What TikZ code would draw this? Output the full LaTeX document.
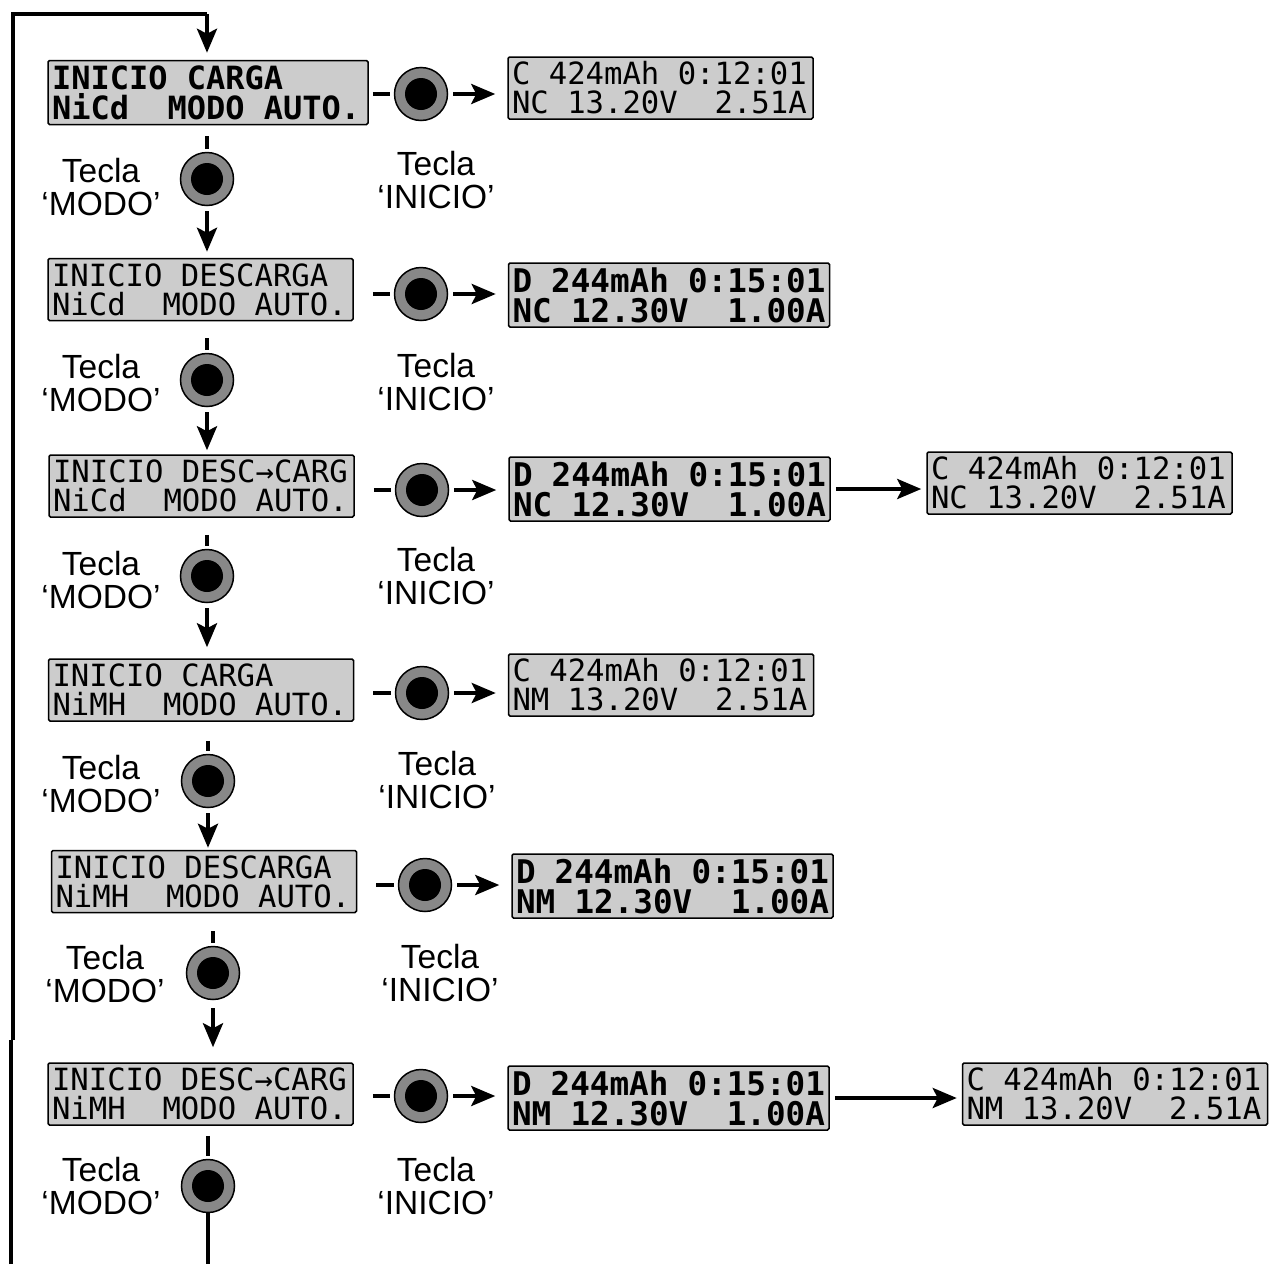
\documentclass[tikz,border=0pt]{standalone}
\usepackage{xcolor}
\usepackage{fontspec}
\setmainfont{Liberation Sans}
\newfontfamily\lcdfont{DejaVu Sans Mono}
\usetikzlibrary{arrows.meta,positioning,calc}
\definecolor{lcdgray}{HTML}{CCCCCC}
\definecolor{ringgray}{HTML}{888888}
\tikzset{
  lcd/.style={draw, fill=lcdgray, rounded corners=1.5pt, line width=1.5pt, inner sep=4pt, align=flush left},
  lcdthin/.style={lcd, minimum width=305pt, minimum height=62pt, text width=297pt, font=\lcdfont\fontsize{30.6}{29}\selectfont},
  lcdbold/.style={lcd, minimum width=321pt, minimum height=64pt, text width=313pt, font=\lcdfont\bfseries\fontsize{32.6}{30}\selectfont},
  keybtn/.style={circle, draw, fill=ringgray, line width=1.5pt, minimum size=53pt, inner sep=0pt,
    path picture={\fill[black] (path picture bounding box.center) circle (16pt);}},
  tecla/.style={align=center, inner sep=0pt, font=\fontsize{33.5}{33.5}\selectfont},
  lnk/.style={line width=4pt},
  arr/.style={lnk, -{Stealth[length=24pt,width=20pt,inset=5pt]}}
}
\begin{document}
\begin{tikzpicture}[x=1pt,y=-1pt]
\useasboundingbox (0,0) rectangle (1269,1264);
\node[lcdbold, minimum width=320pt, text width=312pt, font=\lcdfont\bfseries\fontsize{32}{30}\selectfont] (b1) at (208,92.5) {INICIO CARGA\\NiCd~~MODO AUTO.};
\node[lcdthin] (b2) at (200.5,289.5) {INICIO DESCARGA\\NiCd~~MODO AUTO.};
\node[lcdthin] (b3) at (201.5,486) {INICIO DESC→CARG\\NiCd~~MODO AUTO.};
\node[lcdthin] (b4) at (201,690) {INICIO CARGA\\NiMH~~MODO AUTO.};
\node[lcdthin] (b5) at (204,881.5) {INICIO DESCARGA\\NiMH~~MODO AUTO.};
\node[lcdthin] (b6) at (200.5,1094) {INICIO DESC→CARG\\NiMH~~MODO AUTO.};

\node[lcdthin] (r1) at (660.5,88) {C 424mAh 0:12:01\\NC 13.20V~~2.51A};
\node[lcdbold] (r2) at (669,295) {D 244mAh 0:15:01\\NC 12.30V~~1.00A};
\node[lcdbold] (r3) at (669.5,489) {D 244mAh 0:15:01\\NC 12.30V~~1.00A};
\node[lcdthin] (s3) at (1079.5,483) {C 424mAh 0:12:01\\NC 13.20V~~2.51A};
\node[lcdthin] (r4) at (661,685) {C 424mAh 0:12:01\\NM 13.20V~~2.51A};
\node[lcdbold] (r5) at (672.5,886) {D 244mAh 0:15:01\\NM 12.30V~~1.00A};
\node[lcdbold] (r6) at (668.5,1098) {D 244mAh 0:15:01\\NM 12.30V~~1.00A};
\node[lcdthin] (s6) at (1115,1094) {C 424mAh 0:12:01\\NM 13.20V~~2.51A};

\node[keybtn] (k1) at (207,179) {};
\node[keybtn] (k2) at (207,380) {};
\node[keybtn] (k3) at (207,576) {};
\node[keybtn] (k4) at (208,781) {};
\node[keybtn] (k5) at (213,973) {};
\node[keybtn] (k6) at (208,1186) {};

\node[keybtn] (i1) at (421,94) {};
\node[keybtn] (i2) at (421,294) {};
\node[keybtn] (i3) at (422,490) {};
\node[keybtn] (i4) at (422,693) {};
\node[keybtn] (i5) at (425,885) {};
\node[keybtn] (i6) at (421,1096) {};

\node[tecla] (m1) at (101,187) {Tecla\\`MODO'};
\node[tecla] (m2) at (101,383) {Tecla\\`MODO'};
\node[tecla] (m3) at (101,580) {Tecla\\`MODO'};
\node[tecla] (m4) at (101,784) {Tecla\\`MODO'};
\node[tecla] (m5) at (105,974) {Tecla\\`MODO'};
\node[tecla] (m6) at (101,1186) {Tecla\\`MODO'};

\node[tecla] (t1) at (436,180) {Tecla\\`INICIO'};
\node[tecla] (t2) at (436,382) {Tecla\\`INICIO'};
\node[tecla] (t3) at (436,576) {Tecla\\`INICIO'};
\node[tecla] (t4) at (437,780) {Tecla\\`INICIO'};
\node[tecla] (t5) at (440,973) {Tecla\\`INICIO'};
\node[tecla] (t6) at (436,1186) {Tecla\\`INICIO'};

\draw[lnk, shorten <=4pt, shorten >=4pt] (b1.east |- i1) -- (i1);
\draw[lnk, shorten <=19pt, shorten >=4pt] (b2.east |- i2) -- (i2);
\draw[lnk, shorten <=19pt, shorten >=4pt] (b3.east |- i3) -- (i3);
\draw[lnk, shorten <=19pt, shorten >=4pt] (b4.east |- i4) -- (i4);
\draw[lnk, shorten <=19pt, shorten >=4pt] (b5.east |- i5) -- (i5);
\draw[lnk, shorten <=19pt, shorten >=4pt] (b6.east |- i6) -- (i6);

\draw[arr, shorten <=5pt, shorten >=12pt] (i1) -- (r1.west |- i1);
\draw[arr, shorten <=5pt, shorten >=12pt] (i2) -- (r2.west |- i2);
\draw[arr, shorten <=5pt, shorten >=12pt] (i3) -- (r3.west |- i3);
\draw[arr, shorten <=5pt, shorten >=12pt] (i4) -- (r4.west |- i4);
\draw[arr, shorten <=5pt, shorten >=12pt] (i5) -- (r5.west |- i5);
\draw[arr, shorten <=5pt, shorten >=12pt] (i6) -- (r6.west |- i6);

\draw[arr, shorten <=5pt, shorten >=5pt] (r3.east) -- (s3.west |- r3.east);
\draw[arr, shorten <=5pt, shorten >=5pt] (r6.east) -- (s6.west |- r6.east);

\draw[lnk, shorten <=11pt, shorten >=3pt] (b1.south -| k1) -- (k1);
\draw[lnk, shorten <=17pt, shorten >=3pt] (b2.south -| k2) -- (k2);
\draw[lnk, shorten <=17pt, shorten >=3pt] (b3.south -| k3) -- (k3);
\draw[lnk, shorten <=19pt, shorten >=3pt] (b4.south -| k4) -- (k4);
\draw[lnk, shorten <=18pt, shorten >=3pt] (b5.south -| k5) -- (k5);
\draw[lnk, shorten <=10pt, shorten >=3pt] (b6.south -| k6) -- (k6);

\draw[arr, shorten <=5pt, shorten >=6pt] (k1) -- (b2.north -| k1);
\draw[arr, shorten <=5pt, shorten >=4pt] (k2) -- (b3.north -| k2);
\draw[arr, shorten <=5pt, shorten >=11pt] (k3) -- (b4.north -| k3);
\draw[arr, shorten <=5pt, shorten >=2pt] (k4) -- (b5.north -| k4);
\draw[arr, shorten <=8pt, shorten >=15pt] (k5) -- (b6.north -| k5);

\coordinate (endk) at (208,1264);
\coordinate (endl) at (10.5,1264);
\coordinate (jogl) at (10.5,1040);
\coordinate (jogu) at (12.5,1040);
\coordinate (cornl) at (12.5,14);
\coordinate (cornr) at (207,14);
\draw[lnk] (k6) -- (endk);
\draw[lnk] (endl) -- (jogl);
\draw[lnk, line join=miter] (jogu) -- (cornl) -- (cornr);
\draw[arr, shorten >=7pt] (cornr) -- (b1.north -| cornr);
\end{tikzpicture}
\end{document}
